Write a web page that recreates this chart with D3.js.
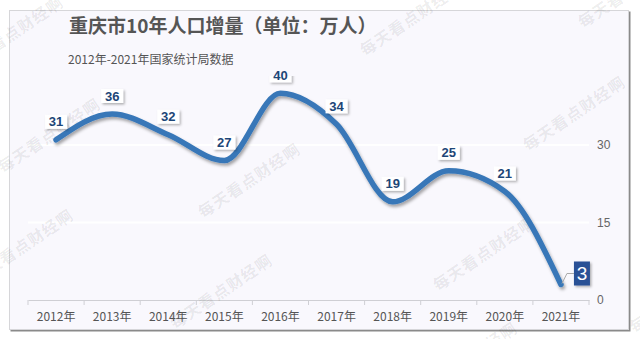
<!DOCTYPE html>
<html><head><meta charset="utf-8">
<script src="https://cdn.jsdelivr.net/npm/d3@7"></script>
<style>
html,body{margin:0;padding:0;background:#fff;}
svg{display:block;font-family:"Liberation Sans","Noto Sans CJK SC",sans-serif;}
</style></head>
<body>
<svg id="c" width="640" height="339"></svg>
<script>
const years = ["2012年","2013年","2014年","2015年","2016年","2017年","2018年","2019年","2020年","2021年"];
const increase = [31,36,32,27,40,34,19,25,21,3];
const yTicks = [0,15,30];
const titleText = "重庆市10年人口增量（单位：万人）";
const subtitleText = "2012年-2021年国家统计局数据";
const watermarkText = "每天看点财经啊";
const watermarkCenters = [[13,35],[50,137],[23,248],[250,182],[222,293],[412,20],[575,115],[630,-8],[485,255],[467,361],[682,297]];

const svg = d3.select("#c");
const defs = svg.append("defs");
const f1 = defs.append("filter").attr("id","lshadow").attr("x","-10%").attr("y","-10%").attr("width","130%").attr("height","130%");
f1.append("feDropShadow").attr("dx",1.5).attr("dy",2.5).attr("stdDeviation",1.5).attr("flood-color","#000").attr("flood-opacity",0.35);
const f2 = defs.append("filter").attr("id","bshadow").attr("x","-30%").attr("y","-30%").attr("width","160%").attr("height","160%");
f2.append("feDropShadow").attr("dx",1.5).attr("dy",1.5).attr("stdDeviation",1).attr("flood-color","#000").attr("flood-opacity",0.3);
defs.append("clipPath").attr("id","lblclip").append("rect").attr("x",0).attr("y",76).attr("width",640).attr("height",300);

// card
svg.append("rect").attr("x",10.5).attr("y",11.5).attr("width",620).attr("height",320).attr("fill","#8a8a8a");
svg.append("rect").attr("x",9.5).attr("y",10.5).attr("width",619).attr("height",319).attr("fill","#f9f8fd").attr("stroke","#d6d6d9");

// titles
svg.append("text").attr("x",69).attr("y",33).attr("font-size",19).attr("font-weight","bold").attr("fill","#555")
  .attr("font-family","'Noto Sans CJK SC',sans-serif").text(titleText);
svg.append("text").attr("x",68).attr("y",64).attr("font-size",12).attr("fill","#555")
  .attr("font-family","'Noto Sans CJK SC',sans-serif").text(subtitleText);

const x = d3.scaleBand().domain(years).range([28,589]);
const y = d3.scaleLinear().domain([0,30]).range([300,145]);

// grid
svg.append("g").selectAll("line").data(yTicks.filter(d=>d>0)).join("line")
  .attr("x1",28).attr("x2",589).attr("y1",d=>y(d)).attr("y2",d=>y(d))
  .attr("stroke","#ffffff").attr("stroke-width",2);

// x axis
const xa = svg.append("g").attr("transform","translate(0,300)")
  .call(d3.axisBottom(x).tickSize(0).tickPadding(12));
xa.select(".domain").attr("stroke","#cfcfd4");
xa.selectAll("text").attr("font-size",12).attr("fill","#555").attr("font-family","'Noto Sans CJK SC',sans-serif");
const tickPos = years.map(d=>x(d)).concat([x.range()[1]]);
xa.append("g").selectAll("line").data(tickPos).join("line")
  .attr("x1",d=>d).attr("x2",d=>d).attr("y1",0).attr("y2",5).attr("stroke","#cfcfd4");

// y axis labels
const ya = svg.append("g").attr("transform","translate(589,0)")
  .call(d3.axisRight(y).tickValues(yTicks).tickSize(0).tickPadding(8));
ya.select(".domain").remove();
ya.selectAll("text").attr("font-size",12).attr("fill","#666");

// watermarks
svg.append("g").selectAll("text").data(watermarkCenters).join("text")
  .attr("transform",d=>`translate(${d[0]},${d[1]}) rotate(-34)`)
  .attr("text-anchor","middle").attr("dominant-baseline","middle")
  .attr("font-size",16).attr("letter-spacing",1).attr("font-weight","bold")
  .attr("font-family","'Noto Sans CJK SC',sans-serif")
  .attr("fill","#000").attr("fill-opacity",0.08).text(watermarkText);

// line
const cx = d => x(d) + x.bandwidth()/2;
const pts = years.map((d,i)=>[cx(d), y(increase[i])]);
svg.append("path").datum(pts)
  .attr("d", d3.line().curve(d3.curveMonotoneX))
  .attr("fill","none").attr("stroke","#3777b8").attr("stroke-width",5.5)
  .attr("stroke-linecap","round").attr("filter","url(#lshadow)");

// labels
const lg = svg.append("g");
const last = years.length-1;
years.forEach((d,i)=>{
  if(i===last) return;
  const px = cx(d), py = y(increase[i]) - 18;
  lg.append("rect").attr("x",px-11).attr("y",py-7).attr("width",22).attr("height",14)
    .attr("fill","#fff").attr("filter","url(#bshadow)").attr("clip-path","url(#lblclip)");
  lg.append("text").attr("x",px).attr("y",py).attr("text-anchor","middle").attr("dominant-baseline","central")
    .attr("font-size",13).attr("font-weight","600").attr("fill","#1d4677").text(increase[i]);
});
// last label with leader
{
  const px = cx(years[last]), py = y(increase[last]);
  svg.append("polyline").attr("points",`${px+1},${py-1} ${px+6},${py-11} ${px+13},${py-11}`)
    .attr("fill","none").attr("stroke","#aaa").attr("stroke-width",1);
  svg.append("rect").attr("x",px+13).attr("y",py-23).attr("width",16).attr("height",24)
    .attr("fill","#2b5196").attr("filter","url(#bshadow)");
  svg.append("text").attr("x",px+21).attr("y",py-11).attr("text-anchor","middle").attr("dominant-baseline","central")
    .attr("font-size",19).attr("fill","#fff").text(increase[last]);
}
</script>
</body></html>
